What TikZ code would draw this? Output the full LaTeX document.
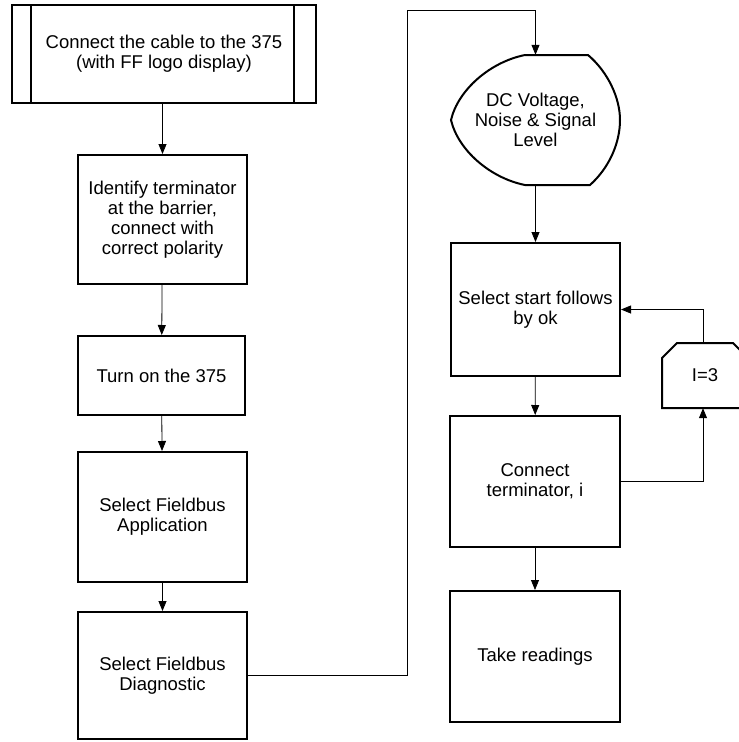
\documentclass[tikz,border=0pt]{standalone}
\usepackage{fontspec}
\setmainfont{Liberation Sans}
\usetikzlibrary{arrows.meta}
\begin{document}
\begin{tikzpicture}[x=1pt,y=-1pt,
  txt/.style={align=center, inner sep=0pt, font=\fontsize{18.5}{20}\selectfont},
  stepbox/.style={txt, draw, line width=2pt},
  outline/.style={line width=2pt},
  flow/.style={line width=0.8pt, -{Triangle[length=10pt,width=8pt]}}]
\useasboundingbox (0,0) rectangle (739,742);

% left column
\node[stepbox, minimum width=304pt, minimum height=98pt] (b1) at (164,54)
  {Connect the cable to the 375\\(with FF logo display)};
\draw[outline] ([xshift=20pt]b1.north west) -- ([xshift=20pt]b1.south west);
\draw[outline] ([xshift=-23pt]b1.north east) -- ([xshift=-23pt]b1.south east);

\node[stepbox, minimum width=169pt, minimum height=129pt] (b2) at (162.5,219.5)
  {Identify terminator\\at the barrier,\\connect with\\correct polarity};
\node[stepbox, minimum width=167pt, minimum height=79pt] (b3) at (161.5,375.5)
  {Turn on the 375};
\node[stepbox, minimum width=169pt, minimum height=130pt] (b4) at (162.5,517)
  {Select Fieldbus\\Application};
\node[stepbox, minimum width=169pt, minimum height=127pt] (b5) at (162.5,675.5)
  {Select Fieldbus\\Diagnostic};

% right column: display shape
\node[txt, minimum width=169pt, minimum height=130pt] (disp) at (535.5,120)
  {DC Voltage,\\Noise \& Signal\\Level};
\draw[outline]
  (525,55) -- (588,55)
  .. controls (608,72) and (620,98) .. (620,120)
  .. controls (620,142) and (610,167) .. (590,185)
  -- (525,185)
  .. controls (490,178) and (458,150) .. (451,120)
  .. controls (458,90) and (490,62) .. (525,55);

\node[stepbox, minimum width=169pt, minimum height=133pt] (b6) at (535.5,309.5)
  {Select start follows\\by ok};
\node[stepbox, minimum width=170pt, minimum height=131pt] (b7) at (535,481.5)
  {Connect\\terminator, i};
\node[stepbox, minimum width=170pt, minimum height=131pt] (b8) at (535,656.5)
  {Take readings};

% loop limit shape with cut top corners
\node[txt, minimum width=86pt, minimum height=65pt] (loop) at (705,375.5) {I=3};
\draw[outline]
  (662,408) -- (662,358) -- (677,343) -- (733,343) -- (748,358) -- (748,408) -- cycle;

% connectors
\draw[flow] (b1.south -| b2.north) -- (b2.north);
\draw[flow] (b2) -- (b3);
\draw[flow] (b3) -- (b4);
\draw[flow] (b4) -- (b5);
\coordinate (turn) at (407,10);
\draw[flow] (b5.east) -| (turn) -| (disp.north);
\draw[flow] (disp.south) -- (b6.north);
\draw[flow] (b6) -- (b7);
\draw[flow] (b7) -- (b8);
\draw[flow] (b7.east) -| ([xshift=-2pt]loop.south);
\draw[flow] ([xshift=-2pt]loop.north) |- (b6.east);
\end{tikzpicture}
\end{document}
